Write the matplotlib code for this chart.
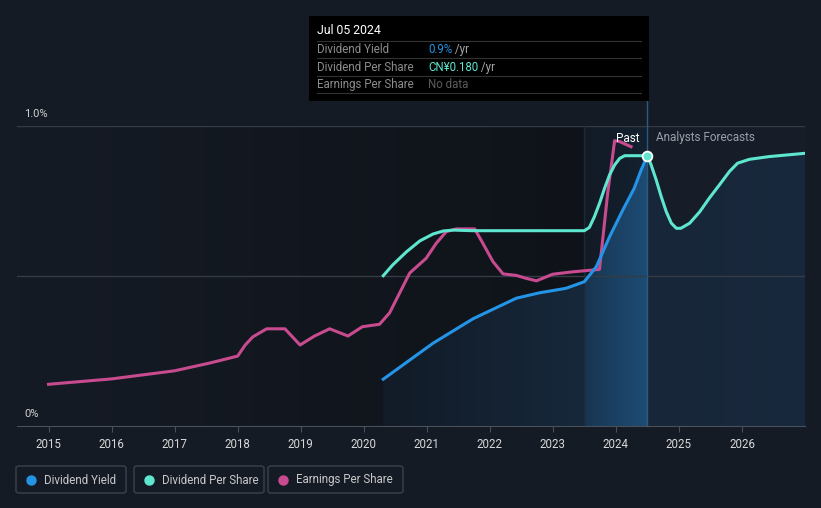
import numpy as np
import matplotlib.pyplot as plt
from matplotlib.colors import to_rgb
from matplotlib.patches import Rectangle, FancyBboxPatch

plt.rcParams['font.family'] = ['Roboto', 'DejaVu Sans']

# data (years, value in % of the axis)
eps_x = [2015.0, 2016.0, 2017.0, 2017.56, 2018.0, 2018.12, 2018.24, 2018.46, 2018.75, 2018.99,
         2019.22, 2019.46, 2019.75, 2019.98, 2020.25, 2020.41, 2020.73, 2020.99, 2021.15,
         2021.31, 2021.47, 2021.76, 2021.89, 2022.05, 2022.21, 2022.42, 2022.58, 2022.74,
         2023.0, 2023.32, 2023.74, 2023.87, 2023.98, 2024.06, 2024.24]
eps_y = [0.139, 0.157, 0.184, 0.21, 0.233, 0.27, 0.297, 0.324, 0.324, 0.27,
         0.30, 0.324, 0.30, 0.331, 0.339, 0.377, 0.51, 0.559, 0.609,
         0.648, 0.657, 0.657, 0.609, 0.548, 0.507, 0.502, 0.492, 0.484,
         0.506, 0.514, 0.522, 0.776, 0.951, 0.948, 0.931]

dps_x = [2020.31, 2020.46, 2020.68, 2020.89, 2021.10, 2021.26, 2021.42, 2021.73, 2023.50,
         2023.58, 2023.66, 2023.74, 2023.82, 2023.90, 2023.98, 2024.06, 2024.14, 2024.5]
dps_y = [0.501, 0.537, 0.581, 0.617, 0.640, 0.650, 0.653, 0.651, 0.651,
         0.662, 0.698, 0.742, 0.792, 0.837, 0.870, 0.892, 0.901, 0.901]

fc_x = [2024.5, 2024.56, 2024.64, 2024.72, 2024.80, 2024.88, 2024.96, 2025.03, 2025.17,
        2025.33, 2025.48, 2025.64, 2025.80, 2025.93, 2026.12, 2026.43, 2027.0]
fc_y = [0.901, 0.87, 0.82, 0.764, 0.714, 0.676, 0.659, 0.659, 0.676,
        0.714, 0.759, 0.803, 0.848, 0.876, 0.889, 0.898, 0.909]

dy_x = [2020.31, 2021.10, 2021.73, 2022.42, 2022.79, 2023.21, 2023.50, 2023.69, 2023.90,
        2024.11, 2024.29, 2024.40, 2024.5]
dy_y = [0.156, 0.276, 0.357, 0.426, 0.444, 0.459, 0.481, 0.531, 0.631,
        0.72, 0.792, 0.853, 0.901]

years = list(range(2015, 2027))
past_start, now = 2023.5, 2024.5

BG = '#151b25'
W, H = 821, 508


def fx(px):
    return px / W


def fy(py):
    return 1 - py / H


fig = plt.figure(figsize=(W / 100, H / 100), dpi=100, facecolor=BG)
ax = fig.add_axes([fx(17), fy(426), fx(805) - fx(17), fy(126) - fy(426)])
ax.set_facecolor(BG)
x0, x1 = 2014.5, 2027.0
ax.set_xlim(x0, x1)
ax.set_ylim(0, 1.0)


def grad(stops, n=1500):
    xs = np.linspace(x0, x1, n)
    px = [s[0] for s in stops]
    cols = np.array([to_rgb(s[1]) for s in stops])
    img = np.stack([np.interp(xs, px, cols[:, i]) for i in range(3)], axis=-1)
    return img[None, :, :]


# background shading
bg = grad([(x0, BG), (past_start - 0.001, '#0f1319'), (past_start, '#121a25'),
           (now - 0.001, '#142130'), (now, '#161d28'), (x1, '#161d28')])
ax.imshow(bg, extent=[x0, x1, 0, 1.0], aspect='auto', interpolation='nearest', zorder=0)

# fill under dividend yield (past) and dps forecast
fill_img = grad([(x0, '#121a25'), (2020.3, '#121b27'), (past_start - 0.001, '#16283b'),
                 (past_start, '#183550'), (now - 0.001, '#1d4c75'), (now, '#172638'),
                 (x1, '#19293d')])
poly = ax.fill_between(dy_x, 0, dy_y, color='none', lw=0)
poly2 = ax.fill_between(fc_x, 0, fc_y, color='none', lw=0)
im1 = ax.imshow(fill_img, extent=[x0, x1, 0, 1.0], aspect='auto', interpolation='nearest', zorder=1)
im1.set_clip_path(poly.get_paths()[0], transform=ax.transData)
im2 = ax.imshow(fill_img, extent=[x0, x1, 0, 1.0], aspect='auto', interpolation='nearest', zorder=1)
im2.set_clip_path(poly2.get_paths()[0], transform=ax.transData)

for v in (0.5, 1.0):
    ax.axhline(v, color='#353b45', lw=1, zorder=2)
ax.axvline(past_start, color='#1d2a38', lw=1, zorder=2)
ax.plot([now, now], [0, 1.087], color='#2a5a82', lw=1, zorder=2, clip_on=False)

ax.plot(eps_x, eps_y, color='#c84b8f', lw=2.2, zorder=4, solid_joinstyle='round')
ax.plot(dps_x, dps_y, color='#5ee6cf', lw=2.2, zorder=5, solid_joinstyle='round')
ax.plot(fc_x, fc_y, color='#5ee6cf', lw=2.2, zorder=5, solid_joinstyle='round')
ax.plot(dy_x, dy_y, color='#2394e6', lw=2.2, zorder=5, solid_joinstyle='round')
ax.plot([now], [dps_y[-1]], 'o', ms=7, mfc='#5ee6cf', mec='white', mew=1.3, zorder=6)

ax.text(now - 0.12, 0.96, 'Past', color='white', fontsize=8.5, ha='right', va='center', zorder=7)
ax.text(now + 0.13, 0.96, 'Analysts Forecasts', color='#9aa0a8', fontsize=8.5,
        ha='left', va='center', zorder=7)

for s in ('top', 'right', 'left'):
    ax.spines[s].set_visible(False)
ax.spines['bottom'].set_color('#4a505a')
ax.set_yticks([])
ax.set_xticks(years)
ax.set_xticklabels([str(y) for y in years], color='#d8d8d8', fontsize=8.3)
ax.tick_params(axis='x', colors='#4a505a', length=4, pad=5, labelcolor='#d8d8d8')

fig.text(fx(24), fy(114), '1.0%', color='#d0d0d0', fontsize=8, va='center')
fig.text(fx(24), fy(414), '0%', color='#d0d0d0', fontsize=8, va='center')

# tooltip
fig.patches.append(Rectangle((fx(309), fy(101)), fx(340), 85 / H, transform=fig.transFigure,
                             facecolor='black', edgecolor='none', zorder=10))
fig.text(fx(317), fy(31), 'Jul 05 2024', color='white', fontsize=8.8, va='center', zorder=11)
for yy in (41, 58, 76, 93):
    fig.add_artist(plt.Line2D([fx(317), fx(641)], [fy(yy), fy(yy)], color='#333333', lw=0.8, zorder=11))
rows = [('Dividend Yield', '0.9%', '#2394e6', ' /yr'),
        ('Dividend Per Share', 'CN¥0.180', '#5ee6cf', ' /yr'),
        ('Earnings Per Share', 'No data', '#5c5c5c', '')]
for i, (lab, val, col, unit) in enumerate(rows):
    yy = fy(49.5 + i * 17.7)
    fig.text(fx(317), yy, lab, color='#8c8c8c', fontsize=8.3, va='center', zorder=11)
    t = fig.text(fx(428), yy, val, color=col, fontsize=8.3, va='center', zorder=11)
    if unit:
        fig.canvas.draw()
        bb = t.get_window_extent()
        fig.text(bb.x1 / W, yy, unit, color='#a8a8a8', fontsize=8.3, va='center', zorder=11)

# legend
legend = [('Dividend Yield', '#2394e6', 16, 126),
          ('Dividend Per Share', '#5ee6cf', 134, 264),
          ('Earnings Per Share', '#c84b8f', 268, 403)]
for lab, col, a, b in legend:
    fig.patches.append(FancyBboxPatch((fx(a), fy(493)), fx(b - a), 27 / H,
                                      boxstyle='round,pad=0,rounding_size=0.004',
                                      transform=fig.transFigure, facecolor=BG,
                                      edgecolor='#3c424c', lw=1))
    fig.add_artist(plt.Line2D([fx(a + 15)], [fy(480)], marker='o', ms=6.5, color=col, lw=0))
    fig.text(fx(a + 28), fy(480), lab, color='#c8c8c8', fontsize=8.3, va='center')

fig.savefig('out.png', dpi=100, facecolor=BG)
